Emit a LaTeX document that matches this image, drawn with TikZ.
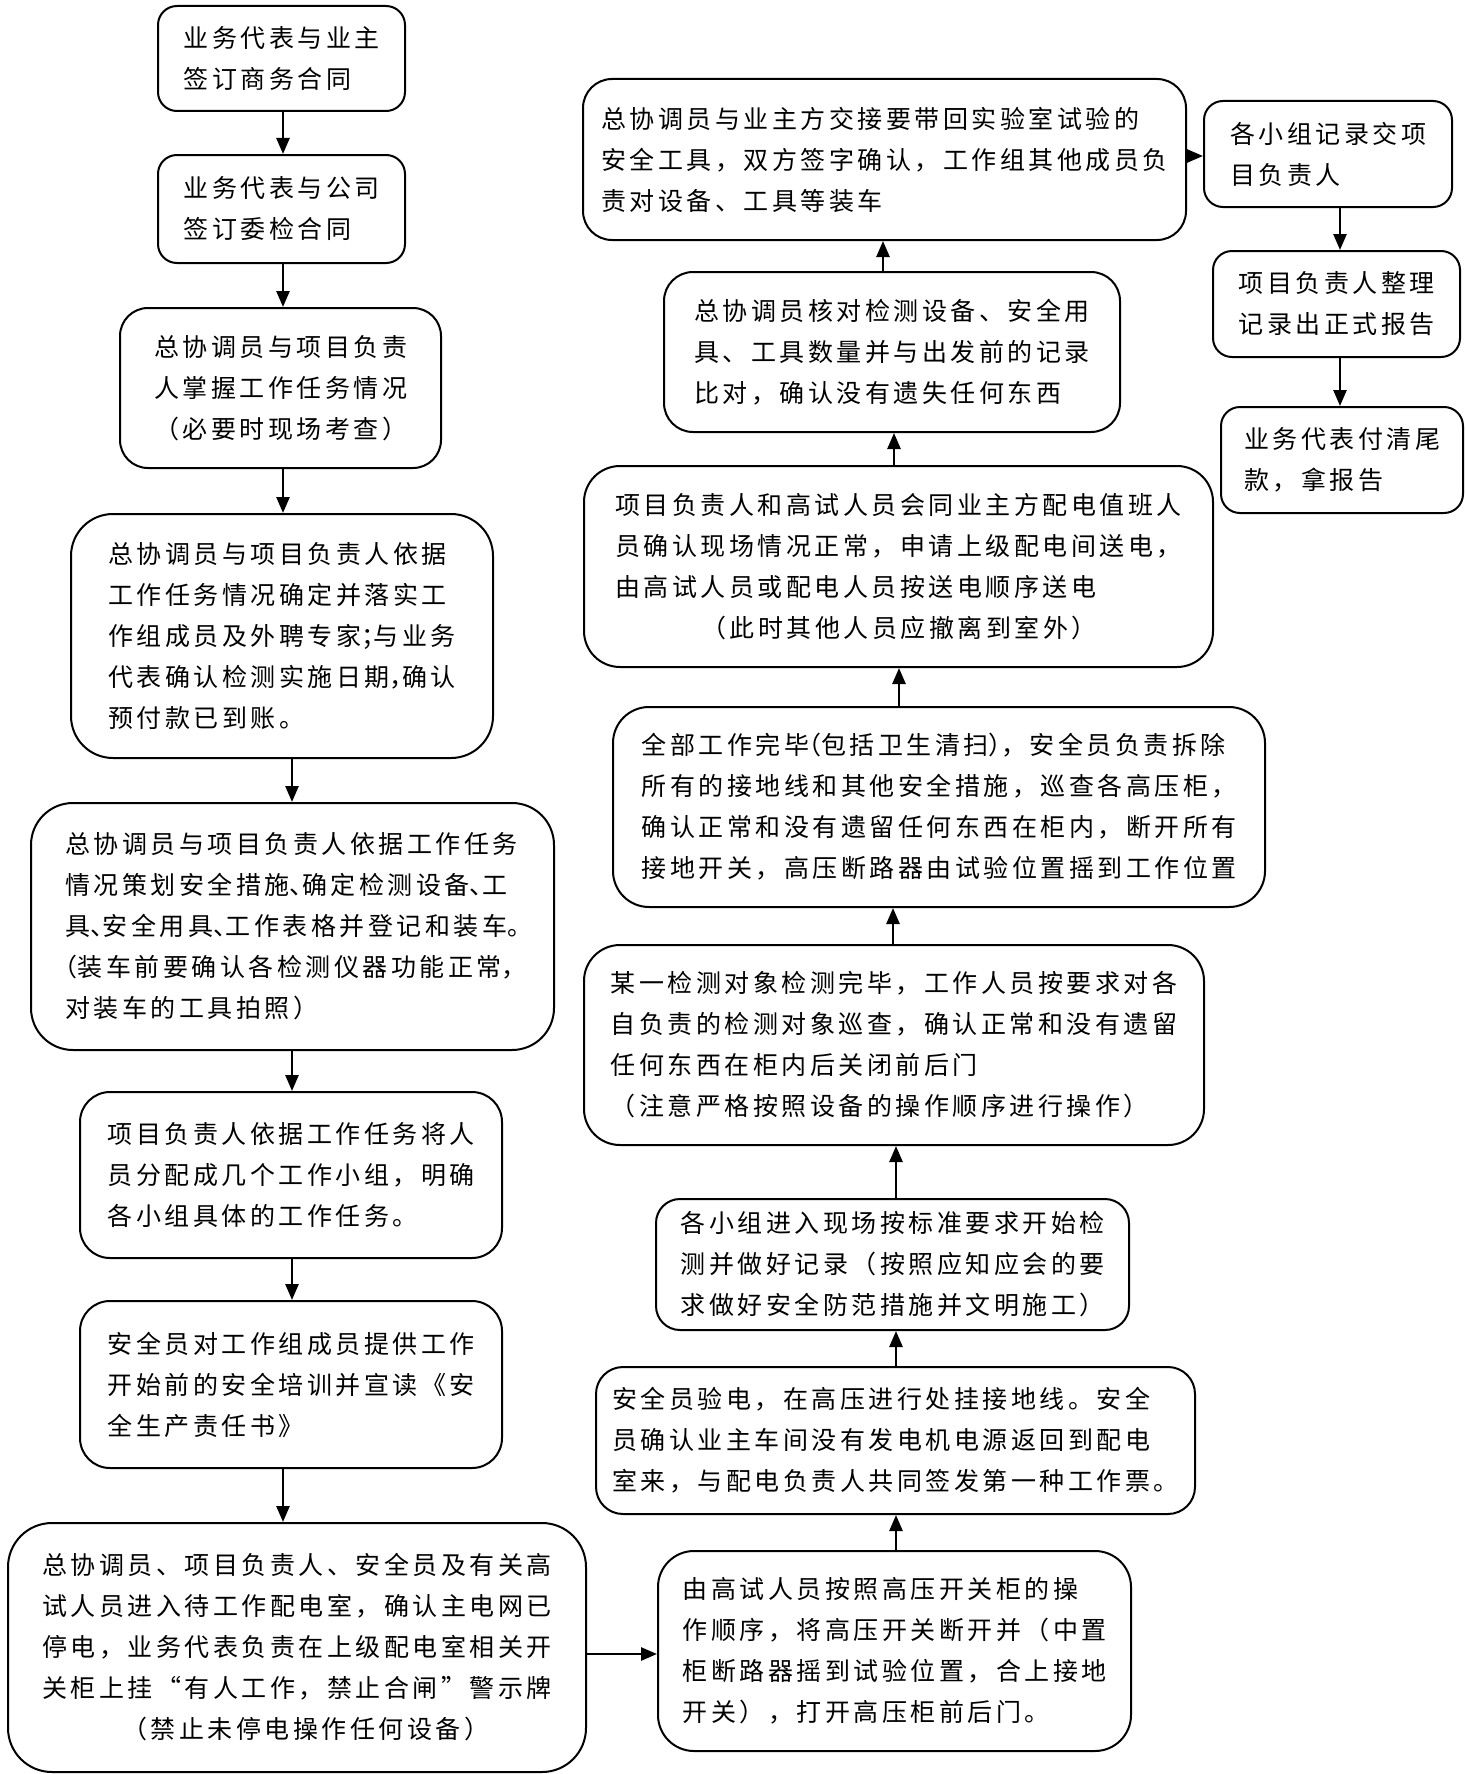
\documentclass[tikz,border=0pt]{standalone}
\usepackage{fontspec}
\newfontfamily\cjk[LetterSpace=14]{Noto Sans CJK SC}
\newcommand\hp[1]{{\addfontfeature{RawFeature=+halt}#1}}
\usetikzlibrary{arrows.meta}
\tikzset{
  box/.style={draw=black, line width=2pt, inner sep=0pt, align=left,
    font=\cjk\fontsize{25}{41}\selectfont, text=black},
  arr/.style={draw=black, line width=2.6pt, -{Triangle[length=16pt,width=13pt]}},
}
\begin{document}
\begin{tikzpicture}[x=1pt,y=-1pt]
\useasboundingbox[fill=white] (0,0) rectangle (1465,1774);

% left column
\node[box, minimum width=247pt, minimum height=105pt, rounded corners=19pt] (b1) at (281.5,58.5)
 {业务代表与业主\\签订商务合同};
\node[box, minimum width=247pt, minimum height=108pt, rounded corners=19pt] (b2) at (281.5,209)
 {业务代表与公司\\签订委检合同};
\node[box, minimum width=321pt, minimum height=160pt, rounded corners=28pt] (b3) at (280.5,388)
 {总协调员与项目负责\\人掌握工作任务情况\\（必要时现场考查）};
\node[box, minimum width=422pt, minimum height=244pt, rounded corners=42pt] (b4) at (282,636)
 {总协调员与项目负责人依据\\工作任务情况确定并落实工\\作组成员及外聘专家\hp{；}与业务\\代表确认检测实施日期\hp{，}确认\\预付款已到账。};
\node[box, minimum width=523pt, minimum height=247pt, rounded corners=42pt] (b5) at (292.5,926.5)
 {总协调员与项目负责人依据工作任务\\情况策划安全措施\hp{、}确定检测设备\hp{、}工\\具\hp{、}安全用具\hp{、}工作表格并登记和装车\hp{。}\\\hp{（}装车前要确认各检测仪器功能正常\hp{，}\\对装车的工具拍照）};
\node[box, minimum width=422pt, minimum height=166pt, rounded corners=30pt] (b6) at (291,1175)
 {项目负责人依据工作任务将人\\员分配成几个工作小组，明确\\各小组具体的工作任务。};
\node[box, minimum width=422pt, minimum height=167pt, rounded corners=30pt] (b7) at (291,1384.5)
 {安全员对工作组成员提供工作\\开始前的安全培训并宣读《安\\全生产责任书》};
\node[box, minimum width=578pt, minimum height=249pt, rounded corners=44pt] (b8) at (297,1647.5)
 {总协调员、项目负责人、安全员及有关高\\试人员进入待工作配电室，确认主电网已\\停电，业务代表负责在上级配电室相关开\\关柜上挂“有人工作，禁止合闸”警示牌\\\hspace*{80pt}（禁止未停电操作任何设备）};

% right column
\node[box, minimum width=473pt, minimum height=200pt, rounded corners=36pt] (b9) at (894.5,1651)
 {由高试人员按照高压开关柜的操\\作顺序，将高压开关断开并（中置\\柜断路器摇到试验位置，合上接地\\开关），打开高压柜前后门。};
\node[box, minimum width=599pt, minimum height=147pt, rounded corners=27pt] (b10) at (895.5,1440.5)
 {安全员验电，在高压进行处挂接地线。安全\\员确认业主车间没有发电机电源返回到配电\\室来，与配电负责人共同签发第一种工作票。};
\node[box, minimum width=473pt, minimum height=131pt, rounded corners=24pt] (b11) at (892.5,1264.5)
 {各小组进入现场按标准要求开始检\\测并做好记录（按照应知应会的要\\求做好安全防范措施并文明施工）};
\node[box, minimum width=620pt, minimum height=200pt, rounded corners=36pt] (b12) at (894,1045)
 {某一检测对象检测完毕，工作人员按要求对各\\自负责的检测对象巡查，确认正常和没有遗留\\任何东西在柜内后关闭前后门\\（注意严格按照设备的操作顺序进行操作）};
\node[box, minimum width=652pt, minimum height=200pt, rounded corners=36pt] (b13) at (939,807)
 {全部工作完毕\hp{（}包括卫生清扫\hp{）}，安全员负责拆除\\所有的接地线和其他安全措施，巡查各高压柜，\\确认正常和没有遗留任何东西在柜内，断开所有\\接地开关，高压断路器由试验位置摇到工作位置};
\node[box, minimum width=629pt, minimum height=201pt, rounded corners=36pt] (b14) at (898.5,566.5)
 {项目负责人和高试人员会同业主方配电值班人\\员确认现场情况正常，申请上级配电间送电，\\由高试人员或配电人员按送电顺序送电\\\hspace*{86pt}（此时其他人员应撤离到室外）};
\node[box, minimum width=456pt, minimum height=160pt, rounded corners=29pt] (b15) at (892,352)
 {总协调员核对检测设备、安全用\\具、工具数量并与出发前的记录\\比对，确认没有遗失任何东西};
\node[box, minimum width=603pt, minimum height=161pt, rounded corners=29pt] (b16) at (884.5,159.5)
 {总协调员与业主方交接要带回实验室试验的\\安全工具，双方签字确认，工作组其他成员负\\责对设备、工具等装车};

% far right column
\node[box, minimum width=248pt, minimum height=106pt, rounded corners=19pt] (b17) at (1328,154)
 {各小组记录交项\\目负责人};
\node[box, minimum width=247pt, minimum height=106pt, rounded corners=19pt] (b18) at (1336.5,304)
 {项目负责人整理\\记录出正式报告};
\node[box, minimum width=242pt, minimum height=106pt, rounded corners=19pt] (b19) at (1342,460)
 {业务代表付清尾\\款，拿报告};

% connector guide coordinates
\coordinate (x283) at (283,0);
\coordinate (x292) at (292,0);
\coordinate (x896) at (896,0);
\coordinate (x893) at (893,0);
\coordinate (x899) at (899,0);
\coordinate (x894) at (894,0);
\coordinate (x883) at (883,0);
\coordinate (x1340) at (1340,0);
\coordinate (y1654) at (0,1654);
\coordinate (y156) at (0,156);

% connectors
\draw[arr] (b1.south -| x283) -- (b2.north -| x283);
\draw[arr] (b2.south -| x283) -- (b3.north -| x283);
\draw[arr] (b3.south -| x283) -- (b4.north -| x283);
\draw[arr] (b4.south -| x292) -- (b5.north -| x292);
\draw[arr] (b5.south -| x292) -- (b6.north -| x292);
\draw[arr] (b6.south -| x292) -- (b7.north -| x292);
\draw[arr] (b7.south -| x283) -- (b8.north -| x283);
\draw[arr] (b8.east |- y1654) -- (b9.west |- y1654);
\draw[arr] (b9.north -| x896) -- (b10.south -| x896);
\draw[arr] (b10.north -| x896) -- (b11.south -| x896);
\draw[arr] (b11.north -| x896) -- (b12.south -| x896);
\draw[arr] (b12.north -| x893) -- (b13.south -| x893);
\draw[arr] (b13.north -| x899) -- (b14.south -| x899);
\draw[arr] (b14.north -| x894) -- (b15.south -| x894);
\draw[arr] (b15.north -| x883) -- (b16.south -| x883);
\draw[arr] (b16.east |- y156) -- (b17.west |- y156);
\draw[arr] (b17.south -| x1340) -- (b18.north -| x1340);
\draw[arr] (b18.south -| x1340) -- (b19.north -| x1340);
\end{tikzpicture}
\end{document}
